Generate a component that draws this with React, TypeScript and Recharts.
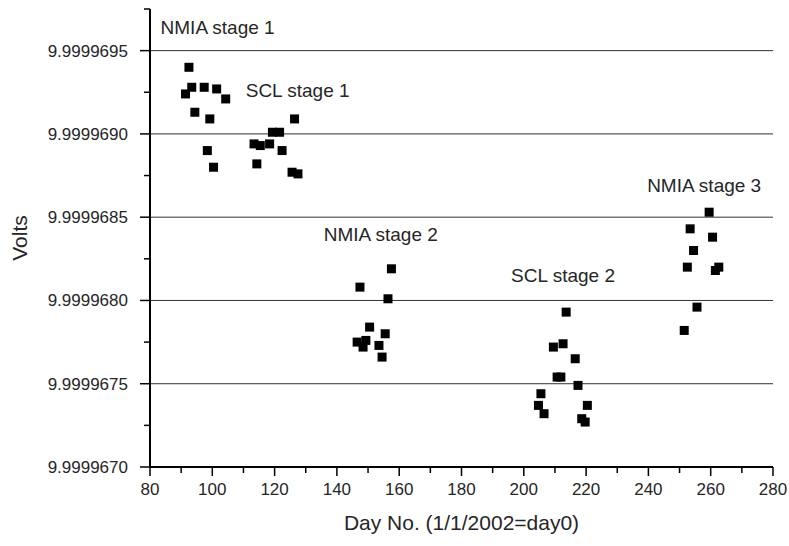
import React from 'react';
import { ScatterChart, Scatter, XAxis, YAxis, ReferenceLine, ReferenceDot, Label } from 'recharts';

// day number, volts
const nmia1Days = [92.5, 93.4, 91.4, 97.4, 101.4, 104.3, 94.4, 99.2, 98.4, 100.4];
const nmia1Volts = [9.9999694, 9.99996928, 9.99996924, 9.99996928, 9.99996927, 9.99996921, 9.99996913, 9.99996909, 9.9999689, 9.9999688];

const scl1Days = [113.4, 115.4, 118.4, 119.3, 121.6, 126.4, 122.4, 114.3, 125.6, 127.5];
const scl1Volts = [9.99996894, 9.99996893, 9.99996894, 9.99996901, 9.99996901, 9.99996909, 9.9999689, 9.99996882, 9.99996877, 9.99996876];

const nmia2Days = [157.5, 147.4, 156.4, 150.5, 155.5, 146.5, 149.3, 148.4, 153.5, 154.5];
const nmia2Volts = [9.99996819, 9.99996808, 9.99996801, 9.99996784, 9.9999678, 9.99996775, 9.99996776, 9.99996772, 9.99996773, 9.99996766];

const scl2Days = [213.6, 209.5, 212.6, 216.5, 210.7, 211.9, 217.4, 205.5, 204.7, 220.4, 206.5, 218.6, 219.7];
const scl2Volts = [9.99996793, 9.99996772, 9.99996774, 9.99996765, 9.99996754, 9.99996754, 9.99996749, 9.99996744, 9.99996737, 9.99996737, 9.99996732, 9.99996729, 9.99996727];

const nmia3Days = [259.5, 253.4, 260.6, 254.5, 252.5, 262.6, 261.5, 255.6, 251.5];
const nmia3Volts = [9.99996853, 9.99996843, 9.99996838, 9.9999683, 9.9999682, 9.9999682, 9.99996818, 9.99996796, 9.99996782];

const stageNames = ['NMIA stage 1', 'SCL stage 1', 'NMIA stage 2', 'SCL stage 2', 'NMIA stage 3'];
const stageLabelDays = [101.7, 127.4, 154.1, 212.6, 257.9];
const stageLabelVolts = [9.99996964, 9.99996926, 9.9999684, 9.99996815, 9.99996869];

const xTicks = [80, 90, 100, 110, 120, 130, 140, 150, 160, 170, 180, 190, 200, 210, 220, 230, 240, 250, 260, 270, 280];
const xMajor = [80, 100, 120, 140, 160, 180, 200, 220, 240, 260, 280];
const yTicks = [9.999967, 9.99996725, 9.9999675, 9.99996775, 9.999968, 9.99996825, 9.9999685, 9.99996875, 9.999969, 9.99996925, 9.9999695, 9.99996975];
const yMajor = [9.999967, 9.9999675, 9.999968, 9.9999685, 9.999969, 9.9999695];
const gridLines = [9.9999675, 9.999968, 9.9999685, 9.999969, 9.9999695];

const FONT = '"Liberation Sans", Arial, sans-serif';
const TEXT = '#262626';

const toPoints = (days: number[], volts: number[]) => days.map((d, i) => ({ day: d, volts: volts[i] }));
const allPoints = [
  ...toPoints(nmia1Days, nmia1Volts),
  ...toPoints(scl1Days, scl1Volts),
  ...toPoints(nmia2Days, nmia2Volts),
  ...toPoints(scl2Days, scl2Volts),
  ...toPoints(nmia3Days, nmia3Volts),
];

const isMajor = (list: number[], v: number) => list.some((m) => Math.abs(m - v) < 1e-9);

const XTick = (props: any) => {
  const { x, y, payload } = props;
  const major = isMajor(xMajor, payload.value);
  return (
    <g>
      <line x1={x} x2={x} y1={y} y2={y + (major ? 9 : 6)} stroke="#000" strokeWidth={1.5} />
      {major && (
        <text x={x} y={y + 28} textAnchor="middle" fontSize={17} fontFamily={FONT} fill={TEXT}>
          {payload.value}
        </text>
      )}
    </g>
  );
};

const YTick = (props: any) => {
  const { x, y, payload } = props;
  const major = isMajor(yMajor, payload.value);
  return (
    <g>
      <line x1={x} x2={x - (major ? 10 : 6)} y1={y} y2={y} stroke="#000" strokeWidth={1.5} />
      {major && (
        <text x={x - 22} y={y + 6} textAnchor="end" fontSize={17} fontFamily={FONT} fill={TEXT}>
          {payload.value.toFixed(7)}
        </text>
      )}
    </g>
  );
};

const VoltsTitle = (props: any) => {
  const vb = props.viewBox || {};
  const cx = (vb.x || 0) + 27;
  const cy = (vb.y || 0) + (vb.height || 0) / 2;
  return (
    <text x={cx} y={cy} transform={`rotate(-90 ${cx} ${cy})`} textAnchor="middle" fontSize={21} fontFamily={FONT} fill={TEXT}>
      Volts
    </text>
  );
};

const Square = (props: any) => (
  <rect x={props.cx - 4.5} y={props.cy - 4.5} width={9} height={9} fill="#000" />
);

const App = () => {
  return (
    <div style={{ position: 'absolute', left: 0, top: 0 }}>
      <ScatterChart width={789} height={546} margin={{ top: 9, right: 16, bottom: 19, left: 0 }}>
        <XAxis
          type="number"
          dataKey="day"
          domain={[80, 280]}
          ticks={xTicks}
          interval={0}
          tick={<XTick />}
          tickSize={0}
          tickMargin={0}
          tickLine={false}
          axisLine={{ stroke: '#000', strokeWidth: 2 }}
          height={60}
        >
          <Label value="Day No. (1/1/2002=day0)" position="insideBottom" offset={-3} fontSize={21} fontFamily={FONT} fill={TEXT} />
        </XAxis>
        <YAxis
          type="number"
          dataKey="volts"
          domain={[9.999967, 9.99996975]}
          ticks={yTicks}
          interval={0}
          tick={<YTick />}
          tickSize={0}
          tickMargin={0}
          tickLine={false}
          axisLine={{ stroke: '#000', strokeWidth: 2 }}
          width={150}
        >
          <Label content={<VoltsTitle />} />
        </YAxis>
        {gridLines.map((g) => (
          <ReferenceLine key={g} y={g} stroke="#333" strokeWidth={1} />
        ))}
        <Scatter data={allPoints} shape={<Square />} isAnimationActive={false} />
        {stageNames.map((name, i) => (
          <ReferenceDot
            key={name}
            x={stageLabelDays[i]}
            y={stageLabelVolts[i]}
            r={1}
            fill="none"
            stroke="none"
            label={{ value: name, position: 'center', fontSize: 19, fontFamily: FONT, fill: TEXT }}
          />
        ))}
      </ScatterChart>
    </div>
  );
};

export default App;
